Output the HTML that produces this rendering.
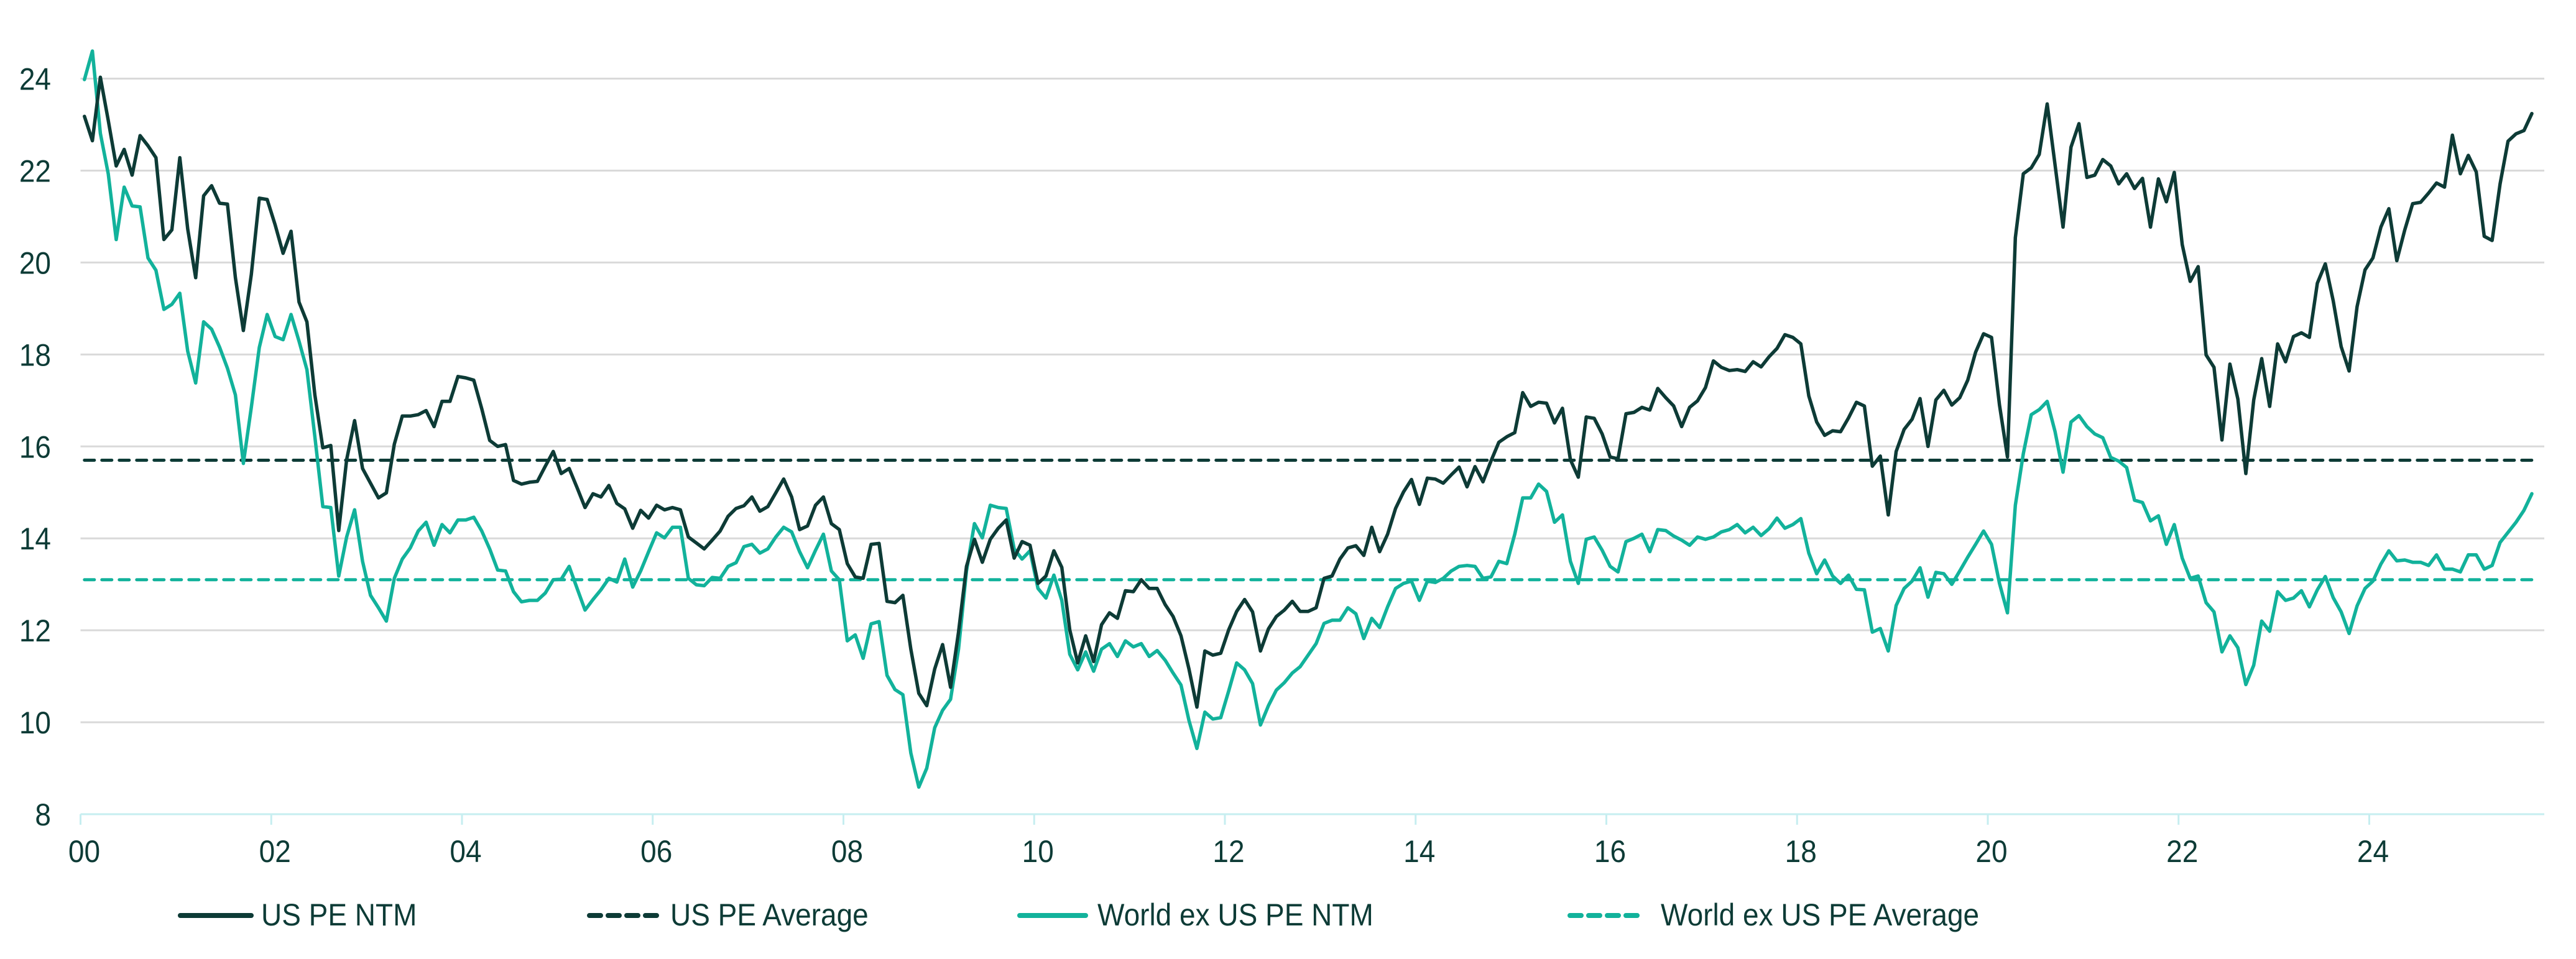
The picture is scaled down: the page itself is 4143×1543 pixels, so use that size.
<!DOCTYPE html>
<html><head><meta charset="utf-8"><style>
html,body{margin:0;padding:0;background:#fff;}
svg{display:block;}
text{font-family:"Liberation Sans",sans-serif;fill:#0d3b36;}
</style></head><body>
<svg id="chart" width="4143" height="1543" viewBox="0 0 4143 1543" xmlns="http://www.w3.org/2000/svg">
<g id="grid"></g>
<g id="yaxis"></g>
<g id="xaxis"></g>
<g id="series"></g>
<g id="legend"></g>
</svg>
<script>
const startYear = 2000;
const yTicks = [8,10,12,14,16,18,20,22,24];
const xTickLabels = ["00","02","04","06","08","10","12","14","16","18","20","22","24"];
const usAverage = 15.7;
const worldAverage = 13.1;
const usPE = [23.18,22.65,24.03,23.09,22.1,22.46,21.9,22.76,22.54,22.28,20.5,20.71,22.28,20.73,19.67,21.45,21.67,21.29,21.27,19.67,18.52,19.74,21.4,21.37,20.82,20.2,20.68,19.14,18.71,17.12,15.97,16.02,14.17,15.71,16.56,15.52,15.2,14.88,14.99,16.05,16.66,16.66,16.69,16.78,16.43,16.98,16.98,17.52,17.49,17.44,16.82,16.13,16.0,16.04,
15.26,15.18,15.22,15.24,15.57,15.89,15.41,15.52,15.1,14.67,14.97,14.9,15.15,14.76,14.64,14.22,14.61,14.44,14.72,14.62,14.67,14.62,14.03,13.9,13.77,13.96,14.16,14.48,14.65,14.71,14.9,14.59,14.69,14.99,15.29,14.9,14.19,14.27,14.72,14.9,14.32,14.19,13.45,13.16,13.13,13.87,13.89,12.63,12.6,12.76,11.59,10.63,10.36,11.16,11.69,
10.76,11.96,13.39,13.98,13.48,13.98,14.22,14.4,13.57,13.93,13.85,13.02,13.18,13.73,13.37,12.01,11.29,11.88,11.32,12.12,12.38,12.26,12.86,12.84,13.1,12.91,12.91,12.56,12.3,11.88,11.16,10.33,11.55,11.46,11.5,12.01,12.41,12.67,12.4,11.55,12.03,12.3,12.44,12.63,12.41,12.41,12.49,13.13,13.18,13.55,13.79,13.84,13.63,14.24,13.71,
14.09,14.65,15.01,15.28,14.74,15.31,15.29,15.2,15.38,15.55,15.12,15.56,15.23,15.68,16.09,16.21,16.3,17.17,16.87,16.96,16.94,16.51,16.83,15.71,15.33,16.64,16.61,16.27,15.77,15.73,16.71,16.74,16.85,16.79,17.26,17.06,16.88,16.43,16.85,16.99,17.28,17.86,17.72,17.65,17.67,17.63,17.84,17.73,17.95,18.13,18.43,18.37,18.23,17.1,16.53,
16.24,16.34,16.32,16.62,16.96,16.88,15.57,15.79,14.51,15.89,16.37,16.59,17.04,16.0,17.01,17.22,16.9,17.06,17.44,18.05,18.45,18.37,16.9,15.77,20.54,21.93,22.06,22.35,23.45,22.12,20.77,22.51,23.02,21.85,21.9,22.24,22.1,21.71,21.93,21.61,21.83,20.77,21.82,21.32,21.96,20.39,19.59,19.91,17.99,17.72,16.14,17.79,17.03,15.41,17.01,17.91,16.87,18.23,17.84,18.39,18.47,
18.37,19.55,19.97,19.17,18.17,17.64,19.04,19.84,20.1,20.77,21.17,20.04,20.71,21.28,21.31,21.51,21.73,21.64,22.77,21.93,22.33,21.97,20.57,20.48,21.71,22.64,22.8,22.87,23.24];
const worldPE = [23.98,24.6,22.81,21.93,20.5,21.64,21.23,21.21,20.1,19.83,18.98,19.09,19.33,18.07,17.38,18.71,18.55,18.16,17.7,17.12,15.63,16.85,18.15,18.87,18.39,18.32,18.87,18.29,17.67,16.21,14.69,14.67,13.18,14.03,14.62,13.5,12.76,12.49,12.2,13.13,13.55,13.79,14.16,14.35,13.85,14.3,14.12,14.4,14.4,14.46,14.16,13.77,13.31,13.29,
12.84,12.62,12.65,12.65,12.81,13.1,13.11,13.39,12.91,12.44,12.67,12.88,13.13,13.05,13.55,12.94,13.29,13.71,14.12,14.01,14.24,14.24,13.13,12.99,12.97,13.15,13.13,13.39,13.47,13.82,13.87,13.68,13.77,14.03,14.24,14.14,13.71,13.36,13.74,14.09,13.29,13.1,11.77,11.9,11.39,12.14,12.19,11.02,10.71,10.6,9.33,8.59,9.0,9.88,10.26,
10.5,11.59,13.29,14.32,14.01,14.72,14.67,14.65,13.77,13.55,13.73,12.91,12.7,13.2,12.65,11.48,11.14,11.53,11.11,11.59,11.71,11.43,11.77,11.64,11.71,11.43,11.56,11.35,11.07,10.81,10.04,9.43,10.22,10.07,10.1,10.68,11.29,11.14,10.84,9.94,10.36,10.7,10.86,11.07,11.21,11.46,11.71,12.15,12.22,12.22,12.49,12.36,11.82,12.26,12.06,
12.51,12.91,13.02,13.07,12.65,13.07,13.04,13.13,13.29,13.39,13.41,13.39,13.13,13.16,13.5,13.45,14.09,14.88,14.88,15.18,15.02,14.35,14.51,13.5,13.02,13.98,14.03,13.74,13.39,13.27,13.93,14.0,14.09,13.71,14.19,14.17,14.05,13.96,13.85,14.03,13.98,14.03,14.14,14.19,14.3,14.12,14.24,14.06,14.21,14.44,14.22,14.3,14.43,13.68,13.23,
13.53,13.18,13.02,13.2,12.89,12.88,11.96,12.04,11.55,12.54,12.91,13.07,13.36,12.72,13.26,13.23,13.0,13.29,13.59,13.87,14.16,13.87,13.02,12.38,14.72,15.84,16.69,16.8,16.98,16.32,15.44,16.53,16.67,16.43,16.27,16.19,15.76,15.68,15.54,14.83,14.78,14.38,14.49,13.87,14.3,13.57,13.13,13.18,12.6,12.4,11.53,11.88,11.62,10.82,11.24,12.2,11.98,12.84,12.65,12.7,12.86,
12.51,12.88,13.17,12.71,12.4,11.93,12.53,12.91,13.07,13.44,13.73,13.51,13.53,13.48,13.48,13.41,13.64,13.33,13.33,13.27,13.64,13.64,13.33,13.41,13.91,14.13,14.35,14.61,14.97];
const months = [];
for (let i = 0; i < usPE.length; i++) { months.push(startYear + i / 12); }

const NS = "http://www.w3.org/2000/svg";
const DARK = "#0d3b36", TEAL = "#12b29b";
const PL = 129.5, PR = 4092, Y24 = 126.5, Y8 = 1310;
const SX = 0.92;
const yScale = v => Y24 + (24 - v) * (Y8 - Y24) / 16;
const tickX = k => 129.5 + k * 306.75;
const xScale = t => 135.8 + (t - startYear) * 153.36;
function mk(tag, attrs, parent) {
  const e = document.createElementNS(NS, tag);
  for (const k in attrs) e.setAttribute(k, attrs[k]);
  parent.appendChild(e); return e;
}
function txt(parent, x, y, anchor, str) {
  const t = mk('text', {transform: 'translate(' + x + ',' + y + ') scale(' + SX + ',1)', 'text-anchor': anchor, 'font-size': 50}, parent);
  t.textContent = str;
  return t;
}
const grid = document.getElementById('grid'), yaxis = document.getElementById('yaxis'),
      xaxis = document.getElementById('xaxis'), series = document.getElementById('series'),
      legend = document.getElementById('legend');
yTicks.forEach(v => {
  if (v > 8) {
    const l = mk('line', {x1: PL, x2: PR, y1: yScale(v), y2: yScale(v), stroke: '#d9d9d9', 'stroke-width': 3}, grid);
    
    
  }
  const t = txt(yaxis, 82, yScale(v) + 18, 'end', v);
  
  
});
const ax = mk('line', {x1: PL, x2: PR, y1: Y8, y2: Y8, stroke: '#c6eef0', 'stroke-width': 3}, xaxis);


xTickLabels.forEach((lab, k) => {
  const x = tickX(k);
  const tk = mk('line', {x1: x, x2: x, y1: Y8, y2: Y8 + 17, stroke: '#c6eef0', 'stroke-width': 3}, xaxis);
  
  
  const t = txt(xaxis, x + 6, 1387, 'middle', lab);
  
  
});
const x0 = xScale(months[0]), x1 = xScale(months[months.length - 1]);
const a1 = mk('line', {x1: x0, x2: x1, y1: yScale(usAverage), y2: yScale(usAverage), stroke: DARK, 'stroke-width': 5, 'stroke-dasharray': '16 12', 'stroke-linecap': 'round'}, series);


const a2 = mk('line', {x1: x0, x2: x1, y1: yScale(worldAverage), y2: yScale(worldAverage), stroke: TEAL, 'stroke-width': 5, 'stroke-dasharray': '16 12', 'stroke-linecap': 'round'}, series);


function pts(arr) { return arr.map((v, i) => xScale(months[i]).toFixed(1) + ',' + yScale(v).toFixed(1)).join(' '); }
const pw = mk('polyline', {points: pts(worldPE), fill: 'none', stroke: TEAL, 'stroke-width': 5.5, 'stroke-linejoin': 'round', 'stroke-linecap': 'round'}, series);


const pu = mk('polyline', {points: pts(usPE), fill: 'none', stroke: DARK, 'stroke-width': 5.5, 'stroke-linejoin': 'round', 'stroke-linecap': 'round'}, series);



const legendItems = [
  {label: 'US PE NTM', color: DARK, dash: null, lx: 290, lw: 114, tx: 420, name: 'legend-us-pe-ntm'},
  {label: 'US PE Average', color: DARK, dash: '18 12', lx: 948, lw: 115, tx: 1078, name: 'legend-us-pe-average'},
  {label: 'World ex US PE NTM', color: TEAL, dash: null, lx: 1640, lw: 106, tx: 1765, name: 'legend-world-ex-us-pe-ntm'},
  {label: 'World ex US PE Average', color: TEAL, dash: '18 12', lx: 2525, lw: 117, tx: 2671, name: 'legend-world-ex-us-pe-average'}
];
legendItems.forEach(it => {
  const g = mk('g', {}, legend);
  
  
  const a = {x1: it.lx, x2: it.lx + it.lw, y1: 1473, y2: 1473, stroke: it.color, 'stroke-width': 8, 'stroke-linecap': 'round'};
  if (it.dash) a['stroke-dasharray'] = it.dash;
  const l = mk('line', a, g);
  
  
  const t = txt(g, it.tx, 1489, 'start', it.label);
  
  
});
</script>
</body></html>
